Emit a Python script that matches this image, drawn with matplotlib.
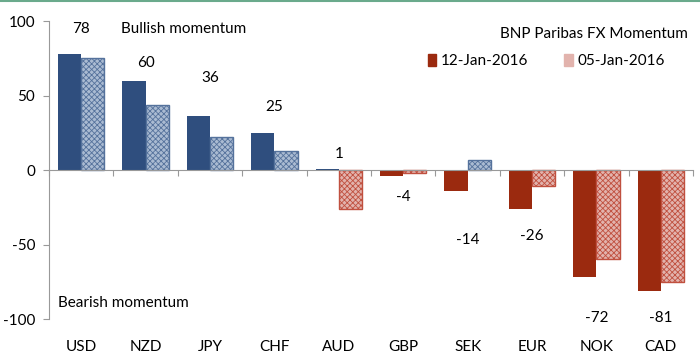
import numpy as np
import matplotlib.pyplot as plt
from matplotlib.patches import Patch
from matplotlib.lines import Line2D
import matplotlib.transforms as mtransforms

currencies = ["USD", "NZD", "JPY", "CHF", "AUD", "GBP", "SEK", "EUR", "NOK", "CAD"]
jan12 = [78, 60, 36, 25, 1, -4, -14, -26, -72, -81]
jan05 = [75, 44, 22, 13, -26, -2, 7, -11, -60, -75]
label_y = [95, 72, 62, 42, 11, -18, -47, -44, -99, -99]

plt.rcParams['font.family'] = ['Lato', 'DejaVu Sans']
plt.rcParams['axes.unicode_minus'] = False
plt.rcParams['hatch.linewidth'] = 0.6

BLUE = "#2f4e7e"
BLUE_L = "#aabbd2"
BLUE_E = "#55729c"
RED = "#9b2a0f"
RED_L = "#e2b3ad"
RED_E = "#c0503f"
FS = 11

fig = plt.figure(figsize=(7, 3.63), dpi=100)
ax = fig.add_axes([0.07, 0.121, 0.92, 0.821])

x = np.arange(len(currencies))
w = 0.36
for i in range(len(currencies)):
    v1, v2 = jan12[i], jan05[i]
    ax.bar(x[i] - w / 2, v1, w, color=BLUE if v1 >= 0 else RED, zorder=2)
    ax.bar(x[i] + w / 2, v2, w, facecolor=BLUE_L if v2 >= 0 else RED_L,
           edgecolor=BLUE_E if v2 >= 0 else RED_E, hatch="xxxxxx",
           linewidth=1.0, zorder=2)
    ax.text(x[i], label_y[i], str(v1), ha="center", va="center", fontsize=FS)

ax.set_xlim(-0.5, len(currencies) - 0.5)
ax.set_ylim(-100, 100)
ax.set_yticks([-100, -50, 0, 50, 100])
ax.tick_params(axis="y", labelsize=FS, direction="out", length=4, color="#999999", pad=6)

ax.spines["top"].set_visible(False)
ax.spines["right"].set_visible(False)
ax.spines["left"].set_color("#999999")
ax.spines["bottom"].set_position(("data", 0))
ax.spines["bottom"].set_color("#999999")
ax.set_xticks(np.arange(-0.5, len(currencies)))
ax.set_xticklabels([])
ax.tick_params(axis="x", direction="out", length=4, color="#999999")

trans = mtransforms.blended_transform_factory(ax.transData, ax.transAxes)
for i, c in enumerate(currencies):
    ax.text(x[i], -0.094, c, transform=trans, ha="center", va="center", fontsize=FS)

ax.text(0.62, 95, "Bullish momentum", ha="left", va="center", fontsize=FS)
ax.text(-0.36, -89, "Bearish momentum", ha="left", va="center", fontsize=FS)

ax.text(0.983, 0.905, "BNP Paribas FX Momentum", transform=fig.transFigure,
        ha="right", va="center", fontsize=FS)

leg_kw = dict(loc="center left", frameon=False, fontsize=FS, handlelength=0.55,
              handleheight=0.9, handletextpad=0.3, borderpad=0, borderaxespad=0)
fig.legend([Patch(facecolor=RED, edgecolor=RED)], ["12-Jan-2016"],
           bbox_to_anchor=(0.611, 0.832), **leg_kw)
fig.legend([Patch(facecolor=RED_L, edgecolor=RED_L, hatch="xxxxxx")], ["05-Jan-2016"],
           bbox_to_anchor=(0.806, 0.832), **leg_kw)

fig.add_artist(Line2D([0, 1], [0.998, 0.998], color="#6aaa8c", linewidth=1.5,
                      transform=fig.transFigure))

fig.savefig("out.png", dpi=100)
